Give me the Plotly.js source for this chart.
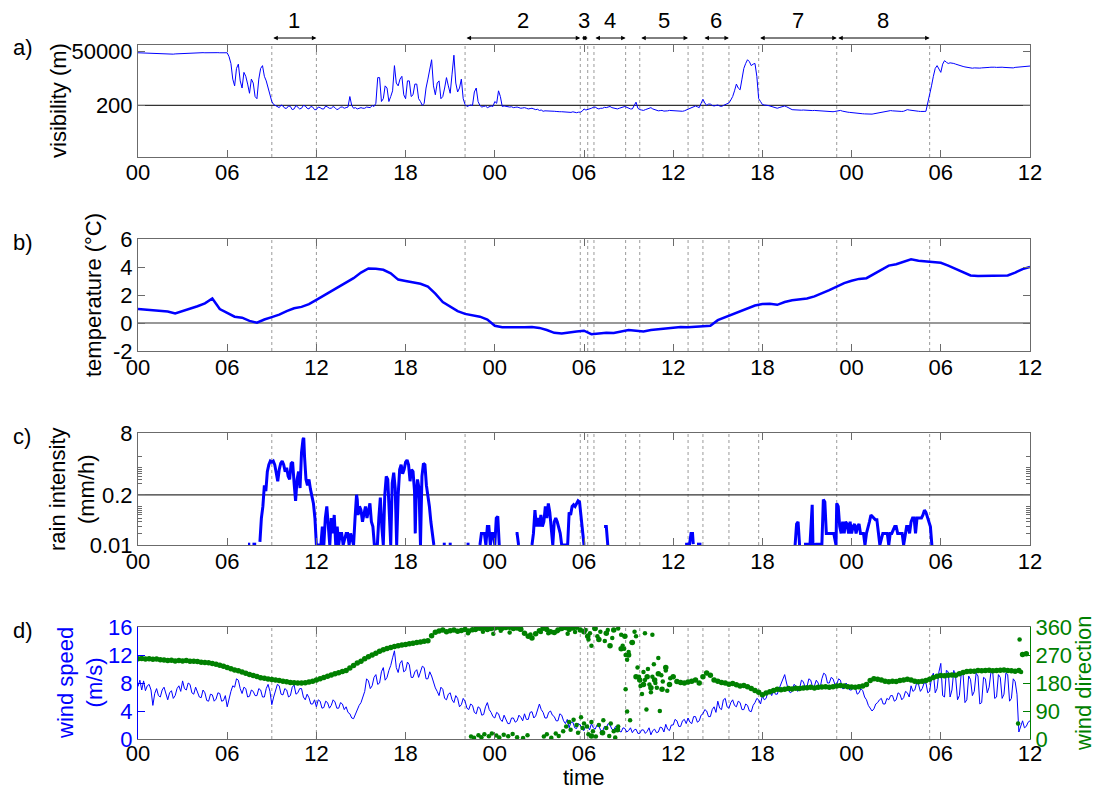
<!DOCTYPE html>
<html>
<head>
<meta charset="utf-8">
<script src="https://cdn.plot.ly/plotly-3.0.1.min.js"></script>
<style>html,body{margin:0;padding:0;background:#fff;}#chart{width:1098px;height:792px;}</style>
</head>
<body>
<div id="chart"></div>
<script>
// ---------------- DATA ----------------
const X_TICK_VALS = [0, 6, 12, 18, 24, 30, 36, 42, 48, 54, 60];
const X_TICK_TEXT = ['00','06','12','18','00','06','12','18','00','06','12'];

const EVENT_LABELS = ['1','2','3','4','5','6','7','8'];
const EVENT_START = [9, 22, 29.75, 30.67, 33.75, 38.0, 41.75, 47.0];
const EVENT_END   = [12, 29.75, 30.25, 32.8, 37.0, 39.75, 47.0, 53.25];

// visibility (m), every 0.125 h from hour 0 to hour 60 (one row per hour)
const VIS_STEP = 0.125;
const visibility = [
 45000,44500,44000,43500,43000,43500,44000,43000,
 42000,42500,43000,42000,41000,40500,40000,39500,
 39000,38500,38000,39000,40000,40500,41000,41500,
 42000,41500,41000,42000,43000,43500,44000,44500,
 44000,44500,45000,45500,45000,45500,46000,46500,
 46000,46500,46000,45500,45000,45500,46000,46500,
 45000,30000,15000,3000,1500,9000,14000,2500,
 1200,6000,4000,1800,700,3000,2000,500,
 400,3000,9000,12000,4000,2500,1200,600,
 300,220,200,180,160,210,190,150,
 150,190,180,130,140,200,170,140,
 150,200,190,150,140,180,170,130,
 130,170,160,140,140,190,170,150,
 150,180,160,130,140,170,170,150,
 160,170,500,200,150,160,140,150,
 160,150,150,170,170,160,200,180,
 250,3500,3500,300,400,1500,1200,300,
 500,900,12000,2000,1500,3000,4000,600,
 400,2500,2500,500,600,1800,1800,400,
 300,200,250,1200,3000,8000,22000,1500,
 600,2000,2500,400,500,1200,3500,1500,
 700,5000,35000,2000,800,1200,3000,400,
 220,180,190,210,200,800,1200,300,
 200,170,180,190,160,170,190,180,
 300,250,900,500,180,190,180,170,
 170,175,160,165,170,160,150,155,
 160,150,140,145,150,140,130,135,
 120,125,110,115,115,110,118,112,
 110,108,110,105,105,102,100,104,
 100,98,104,96,95,100,100,110,
 140,125,130,145,150,165,170,150,
 140,150,150,165,160,170,180,160,
 150,145,140,150,155,170,180,165,
 150,140,140,200,280,150,130,125,
 120,130,140,155,160,140,130,120,
 115,118,120,112,110,115,120,118,
 115,112,110,108,105,110,115,125,
 140,160,170,180,190,175,160,250,
 380,260,200,230,230,200,190,200,
 210,190,180,200,220,240,260,350,
 500,900,1800,1200,1000,3000,9000,15000,
 22000,18000,12000,14000,15000,4000,400,300,
 220,210,210,200,190,180,170,160,
 150,160,170,180,190,175,160,140,
 130,128,125,122,120,123,125,122,
 120,118,115,118,120,118,115,112,
 110,112,115,112,110,108,105,108,
 110,115,120,112,105,102,100,98,
 95,96,95,92,90,88,85,84,
 82,80,80,82,85,88,90,95,
 100,105,110,115,120,118,115,112,
 110,108,105,108,110,120,130,125,
 120,118,115,112,110,108,105,108,
 110,300,600,1500,4000,9000,12000,8000,
 6000,14000,20000,17000,15000,16000,16000,15000,
 14000,13000,12000,11500,11000,10500,10000,9500,
 9000,9200,9500,9200,9000,9300,9500,9800,
 10000,10000,10000,10200,10500,10200,10000,10300,
 10500,10200,10000,9800,9500,9200,9000,9500,
 10000,10200,10500,10800,11000,11000,11000,11200,
 11500
];

// temperature (deg C), every 0.5 h
const TEMP_STEP = 0.5;
const temperature = [
 1.0,0.95,0.9,0.88,0.82,0.68,0.85,1.0,1.2,1.4,1.75,1.0,
 0.75,0.45,0.38,0.15,0.02,0.25,0.42,0.6,0.85,1.05,1.15,1.35,
 1.65,1.95,2.25,2.55,2.85,3.2,3.6,3.9,3.88,3.8,3.55,3.1,
 3.0,2.9,2.8,2.6,2.1,1.5,1.2,0.85,0.65,0.55,0.45,0.25,
 -0.2,-0.3,-0.3,-0.35,-0.3,-0.28,-0.35,-0.5,-0.7,-0.75,-0.65,-0.6,
 -0.55,-0.8,-0.75,-0.7,-0.72,-0.6,-0.5,-0.55,-0.6,-0.5,-0.45,-0.35,
 -0.3,-0.28,-0.3,-0.28,-0.25,-0.2,0.2,0.4,0.6,0.8,1.05,1.25,
 1.35,1.38,1.3,1.5,1.62,1.68,1.75,1.9,2.1,2.35,2.6,2.85,
 3.02,3.15,3.2,3.5,3.85,4.1,4.2,4.35,4.55,4.45,4.4,4.35,
 4.3,4.1,3.85,3.6,3.4,3.35,3.35,3.35,3.35,3.4,3.6,3.85,
 4.0
];

// rain intensity (mm/h): time (h) and value, null = no rain
const rainTime = [
 7.4,7.55,7.56, 7.7,7.95,7.96,
 8.2,8.25,8.3,8.4,8.5,8.6,8.7,8.8,8.9,9.0,9.1,9.2,9.3,9.4,9.5,9.6,9.7,9.8,9.9,10.0,10.1,10.2,10.3,10.4,10.5,10.6,10.7,10.8,10.9,11.0,11.1,11.15,11.2,11.3,11.4,11.5,11.6,11.7,11.8,11.9,12.0,
 12.3,12.4,12.5,12.6,12.7,12.8,12.9,13.0,13.1,13.2,13.3,13.4,13.5,13.6,13.7,13.8,14.0,14.1,14.2,14.3,14.5,
 14.6,14.7,14.75,14.8,14.9,15.0,15.1,15.2,15.3,15.4,15.5,15.6,15.7,15.8,15.9,16.0,
 16.1,16.2,16.3,16.4,16.5,16.6,16.7,16.8,16.9,17.0,17.1,17.2,17.3,17.4,17.5,17.6,17.7,17.8,17.9,18.0,18.1,18.2,18.3,18.4,18.5,18.6,18.65,18.7,18.8,18.9,19.0,19.1,19.2,19.3,19.4,19.5,19.6,19.7,19.8,19.9,19.91,
 20.5,20.7,20.71, 20.9,21.1,21.11,
 22.1,22.3,22.31,
 23.0,23.1,23.3,23.4,23.5,23.6,23.7,23.8,23.9,24.0,24.1,24.2,24.3,24.31,
 25.4,25.5,25.6,25.61,
 26.5,26.6,26.7,26.8,26.9,27.0,27.1,27.2,27.3,27.4,27.5,27.6,27.7,27.8,27.9,28.0,28.1,28.2,28.3,28.4,28.5,28.7,28.9,29.0,29.1,29.2,29.3,29.4,29.5,29.6,29.7,29.8,29.9,30.0,30.01,
 31.35,31.5,31.6,31.61,
 36.8,37.1,37.2,37.3,37.35,37.36, 37.6,37.9,37.91,
 44.2,44.3,44.4,44.5,44.51,
 44.8,45.1,45.2,45.3,45.35,45.4,45.6,45.9,46.0,46.1,46.2,46.3,46.4,46.5,46.6,46.8,46.95,47.0,47.1,47.2,47.3,47.4,47.5,47.6,47.7,47.8,47.9,48.0,48.1,48.2,48.3,48.4,48.5,48.6,48.7,48.8,48.9,49.0,49.2,49.3,49.4,49.5,49.6,49.7,49.8,49.9,50.1,50.2,50.4,50.5,50.6,50.7,50.8,50.9,51.0,51.1,51.2,51.4,51.5,51.6,51.7,51.8,51.9,52.0,52.1,52.2,52.3,52.4,52.5,52.6,52.7,52.8,52.9,53.0,53.1,53.2,53.3,53.4,53.41
];
const rainValue = [
 0.0105,0.0105,null, 0.0105,0.0105,null,
 0.012,0.03,0.05,0.1,0.35,0.25,0.8,1.2,1.5,1.4,1.5,1.2,0.7,0.45,0.9,1.3,1.5,1.2,0.8,1.0,0.6,0.5,1.3,1.4,0.4,0.14,0.5,0.8,0.3,2.5,5.5,6.0,2.0,0.5,0.35,0.5,0.28,0.2,0.12,0.05,0.01,
 0.01,0.03,0.01,0.05,0.1,0.03,0.01,0.05,0.02,0.06,0.01,0.03,0.01,0.02,0.02,0.01,0.02,0.02,0.01,0.02,0.01,
 0.05,0.2,0.15,0.06,0.1,0.08,0.04,0.06,0.1,0.05,0.08,0.12,0.04,0.03,0.01,0.01,
 0.01,0.05,0.17,0.03,0.01,0.2,0.6,0.5,0.05,0.01,0.4,0.75,0.3,0.01,0.2,0.9,1.2,0.7,0.9,1.4,1.6,1.2,0.45,0.9,0.8,0.25,0.02,0.15,0.5,0.3,0.01,0.6,1.3,1.2,0.35,0.2,0.1,0.04,0.02,0.01,null,
 0.0105,0.0105,null, 0.0105,0.0105,null,
 0.0105,0.0105,null,
 0.01,0.02,0.02,0.01,0.03,0.03,0.01,0.02,0.02,0.01,0.05,0.055,0.01,null,
 0.02,0.02,0.01,null,
 0.01,0.02,0.08,0.03,0.05,0.03,0.06,0.03,0.04,0.1,0.05,0.12,0.07,0.02,0.01,0.04,0.05,0.04,0.03,0.02,0.01,0.01,0.01,0.07,0.06,0.1,0.11,0.1,0.12,0.14,0.13,0.05,0.03,0.01,null,
 0.03,0.03,0.01,null,
 0.0105,0.0105,0.02,0.02,0.0105,null, 0.0105,0.0105,null,
 0.01,0.035,0.04,0.01,null,
 0.0105,0.0105,0.01,0.1,0.11,0.01,0.0105,0.0105,0.01,0.15,0.13,0.02,0.02,0.02,0.02,0.02,0.01,0.12,0.1,0.03,0.02,0.04,0.02,0.04,0.035,0.02,0.04,0.02,0.03,0.035,0.02,0.03,0.035,0.02,0.02,0.02,0.01,0.02,0.04,0.06,0.055,0.05,0.045,0.045,0.02,0.01,0.02,0.02,0.02,0.01,0.02,0.02,0.025,0.03,0.03,0.02,0.02,0.02,0.01,0.02,0.03,0.03,0.02,0.04,0.05,0.05,0.02,0.05,0.05,0.05,0.05,0.06,0.08,0.07,0.05,0.04,0.03,0.01,null
];

// wind speed (m/s), every 0.125 h (one row per hour)
const WS_STEP = 0.125;
const windSpeed = [
 7.5,8.4,7.0,8.3,6.9,7.6,7.8,7.0,
 4.8,6.5,7.2,6.2,6.0,7.0,7.4,6.6,
 5.6,6.6,6.9,5.8,6.2,7.2,7.6,6.8,
 8.3,7.2,7.0,8.0,7.8,6.6,6.4,7.4,
 6.8,6.0,5.9,7.0,6.6,5.5,5.4,6.4,
 6.3,5.4,5.7,6.6,6.5,5.4,5.5,6.2,
 4.6,5.8,6.8,7.6,7.4,8.6,8.4,7.2,
 6.5,7.4,7.2,6.0,6.1,7.0,6.8,6.2,
 6.2,7.2,7.0,6.0,6.0,7.2,7.8,6.8,
 4.9,6.0,6.8,7.8,7.6,6.4,6.3,7.2,
 7.0,6.0,6.2,7.4,7.7,6.4,6.6,7.2,
 7.2,6.0,5.6,6.4,5.9,5.0,5.0,5.6,
 4.6,5.6,5.4,4.4,4.5,5.4,5.2,4.4,
 4.8,5.6,5.3,4.4,4.4,5.2,5.0,4.2,
 4.6,3.8,3.6,3.0,2.9,3.6,4.0,4.8,
 5.2,6.0,6.8,8.6,8.3,7.2,7.6,8.8,
 9.2,7.8,8.0,9.6,10.2,8.4,8.8,9.8,
 10.5,11.6,12.6,10.2,9.5,10.8,11.2,9.6,
 9.8,11.0,10.6,8.8,8.8,9.6,9.9,8.8,
 9.5,10.4,10.2,8.6,8.6,9.6,9.0,8.0,
 7.3,6.8,6.2,7.4,7.1,5.8,5.6,6.4,
 6.6,5.6,5.2,6.2,5.8,4.6,4.9,5.8,
 5.4,4.4,4.2,5.0,4.8,3.8,3.6,4.6,
 4.4,3.4,3.5,4.6,5.2,4.2,3.8,3.2,
 3.0,3.8,3.6,2.8,2.5,3.4,2.8,2.2,
 2.2,3.0,3.0,2.4,2.6,3.4,3.1,2.6,
 3.6,2.8,2.8,3.8,3.9,3.0,3.3,4.0,
 5.0,4.2,3.8,3.0,3.0,3.8,4.0,3.4,
 3.2,2.6,2.6,3.6,3.4,2.6,2.2,2.8,
 1.6,2.4,2.4,1.6,1.5,2.2,2.0,1.4,
 1.2,2.0,1.8,1.3,2.2,1.6,1.4,2.0,
 1.9,1.2,1.1,1.8,1.6,2.2,2.0,1.4,
 1.3,1.8,1.7,1.1,1.0,1.6,1.5,1.0,
 1.2,1.6,0.9,1.3,1.4,0.8,0.8,1.3,
 1.3,0.8,1.1,1.6,0.6,1.2,1.4,0.9,
 1.0,1.7,1.6,1.0,2.1,1.4,1.2,2.0,
 2.0,2.8,2.6,1.8,1.8,2.6,2.8,2.2,
 3.0,2.4,2.2,3.2,3.2,2.4,2.6,3.4,
 3.6,4.2,4.0,3.2,3.2,4.2,4.6,3.8,
 5.4,4.4,4.2,5.6,5.8,4.6,4.4,5.2,
 5.6,4.8,4.6,5.4,5.2,4.2,4.2,5.0,
 4.8,4.0,3.9,4.8,5.2,5.8,5.6,5.0,
 6.2,5.6,5.8,6.8,6.8,6.2,7.0,6.4,
 6.4,7.2,7.8,8.6,9.2,8.0,7.0,6.6,
 6.8,7.8,7.6,6.8,7.2,8.4,8.2,7.4,
 7.5,8.6,8.4,7.4,7.6,8.4,8.0,7.2,
 8.6,9.4,9.2,8.0,8.0,8.8,8.6,7.8,
 7.8,8.6,8.4,7.2,7.2,8.0,7.6,7.0,
 7.0,7.6,7.3,6.4,6.6,7.2,6.9,6.0,
 5.6,4.8,4.4,4.0,4.3,5.0,5.2,5.6,
 5.8,5.0,5.0,5.8,5.6,6.2,6.2,5.4,
 5.6,6.6,6.4,5.6,5.9,6.8,6.6,6.0,
 7.6,6.8,7.0,8.0,7.8,6.8,7.2,8.0,
 8.0,6.6,6.8,8.8,9.4,6.6,7.2,9.6,
 10.8,6.2,6.0,9.8,9.6,6.0,7.0,9.8,
 8.8,5.6,6.2,9.4,9.2,5.2,5.6,9.0,
 8.5,6.2,6.8,9.4,9.0,5.0,5.2,8.8,
 8.6,6.6,7.4,9.6,9.4,5.8,6.0,9.2,
 8.8,5.8,6.4,9.4,9.2,5.4,5.8,8.6,
 8.2,6.4,1.0,1.8,2.6,1.6,1.8,2.4,
 2.6
];

// wind direction (deg), every 0.25 h
const WD_STEP = 0.25;
const windDirection = [
 258,259,257,258, 256,257,255,254, 252,253,251,252, 251,252,250,250, 249,247,246,245, 243,240,237,234,
 230,226,222,219, 215,211,207,204, 201,197,195,193, 191,190,188,186, 184,182,181,180, 180,181,183,186,
 190,194,198,202, 206,210,213,217, 220,228,236,244, 250,258,264,270, 276,282,287,291, 294,297,300,302,
 304,306,308,310, 312,314,316,332, 343,347,350,345, 348,350,346,349, 352,347,351,354, 356,358,352,355,
 357,359,356,358, 359,355,357,353, 340,330,325,338, 348,356,352,345, 342,350,355,358, 352,357,359,350,
 345,330,10,355, 320,20,340,300, 350,30,290,330, 270,310,200,190, 175,200,165,190, 210,160,230,175,
 200,185,182,180, 183,186,190,180, 200,212,205,190, 186,182,180,176, 178,174,170,172, 168,162,156,150,
 142,148,152,156, 160,158,160,162, 161,163,162,164, 165,166,164,166, 167,168,166,168, 170,172,170,168,
 167,166,168,170, 175,188,194,192, 190,186,184,186, 185,188,190,192, 190,186,184,186, 188,192,198,202,
 204,203,205,206, 205,210,214,217, 218,218,220,219, 220,221,219,220, 221,222,220,219, 218,220,272,274,
 null
];
// additional scattered wind-direction samples (time h, direction deg)
const windDirExtraTime = [
 22.4,22.6,22.9,23.1,23.3,23.6,23.8,24.1,24.3,24.6,24.9,25.2,25.5,25.9,26.2,27.3,27.5,27.8,28.1,28.3,28.6,28.8,29.0,29.1,29.3,29.5,29.6,29.8,29.9,30.0,
 30.2,30.3,30.5,30.6,30.8,31.0,31.2,31.3,31.5,31.7,31.8,32.0,32.1,32.3,
 30.1,30.3,30.4,30.5,30.7,30.9,31.1,31.4,31.6,31.9,32.3,32.5,32.6,32.7,32.8,32.9,33.0,33.2,33.4,33.5,
 32.8,32.9,33.1,33.6,33.7,33.8,33.9,34.0,34.1,34.2,34.3,34.4,34.5,34.6,34.7,34.8,34.9,35.0,35.1,35.2,35.3,35.5,35.6,35.8,34.1,34.6,
 22.2,22.7,23.2,23.9,24.4,25.0,25.7,26.4,27.1,27.6,28.2,28.9,29.4,
 59.2,59.3,59.4
];
const windDirExtraValue = [
 8,4,12,6,15,9,18,11,5,14,9,16,6,3,12,8,15,4,18,10,25,40,55,30,62,45,20,70,35,50,
 40,15,55,25,8,45,20,60,35,10,50,25,5,40,
 350,320,340,300,355,330,345,315,350,325,355,335,300,290,270,255,280,310,345,330,
 160,88,60,230,200,170,145,215,190,95,225,175,150,200,240,180,165,260,90,205,185,220,155,195,340,335,
 340,350,345,338,348,342,352,336,344,340,346,338,344,
 50,320,215
];

const VIS_REF = [200];
const TEMP_REF = [0];
const RAIN_REF = [0.2];

const VIS_TICKS = [200, 50000];
const TEMP_TICKS = [-2, 0, 2, 4, 6];
const RAIN_TICKS = [0.01, 0.2, 8];
const RAIN_MINOR = [0.02,0.03,0.04,0.05,0.06,0.07,0.08,0.09,0.1,0.4,0.5,0.6,0.7,0.8,0.9,1,2];
const WS_TICKS = [0, 4, 8, 12, 16];
const WD_TICKS = [0, 90, 180, 270, 360];

// ---------------- LAYOUT HELPERS ----------------
const W = 1098, H = 792;
const PX_L = 138, PX_R = 1030;
const PANEL_TOP = [45, 239, 433, 627];
const PANEL_H = 112;
const xDom = [PX_L / W, PX_R / W];
const yDom = i => [1 - (PANEL_TOP[i] + PANEL_H) / H, 1 - PANEL_TOP[i] / H];
const py = p => 1 - p / H;
const px = p => p / W;

const BLUE = '#0000ff';
const GREEN = '#008000';
const AXC = '#6b6b6b';
const FONT = 'Liberation Sans, Arial, sans-serif';

const seq = (arr, step) => arr.map((_, i) => i * step);

// ---------------- TRACES ----------------
const traces = [
  {x: [0, 60], y: [VIS_REF[0], VIS_REF[0]], xaxis: 'x', yaxis: 'y', mode: 'lines', line: {color: '#333', width: 1.2}, hoverinfo: 'skip'},
  {x: seq(visibility, VIS_STEP), y: visibility, xaxis: 'x', yaxis: 'y', mode: 'lines', line: {color: BLUE, width: 1}},
  {x: [0, 60], y: [TEMP_REF[0], TEMP_REF[0]], xaxis: 'x2', yaxis: 'y2', mode: 'lines', line: {color: '#333', width: 1.2}, hoverinfo: 'skip'},
  {x: seq(temperature, TEMP_STEP), y: temperature, xaxis: 'x2', yaxis: 'y2', mode: 'lines', line: {color: BLUE, width: 2.5}},
  {x: [0, 60], y: [RAIN_REF[0], RAIN_REF[0]], xaxis: 'x3', yaxis: 'y3', mode: 'lines', line: {color: '#333', width: 1.2}, hoverinfo: 'skip'},
  {x: rainTime, y: rainValue, xaxis: 'x3', yaxis: 'y3', mode: 'lines', line: {color: BLUE, width: 3}, connectgaps: false},
  {x: seq(windSpeed, WS_STEP), y: windSpeed, xaxis: 'x4', yaxis: 'y4', mode: 'lines', line: {color: BLUE, width: 1}},
  {x: seq(windDirection, WD_STEP), y: windDirection, xaxis: 'x4', yaxis: 'y5', mode: 'markers', marker: {color: GREEN, size: 5.5}},
  {x: windDirExtraTime, y: windDirExtraValue, xaxis: 'x4', yaxis: 'y5', mode: 'markers', marker: {color: GREEN, size: 4.5}}
];

// ---------------- AXES ----------------
const xAxis = (anchor, standoff) => ({
  domain: xDom, anchor: anchor, range: [0, 60],
  tickmode: 'array', tickvals: X_TICK_VALS, ticktext: X_TICK_TEXT,
  ticks: 'inside', ticklen: 7, tickcolor: AXC, tickwidth: 1,
  showline: true, linecolor: AXC, linewidth: 1, mirror: 'ticks',
  showgrid: false, zeroline: false, ticklabelstandoff: standoff,
  tickfont: {family: FONT, size: 22, color: '#000'}
});
const yBase = (i, anchor) => ({
  domain: yDom(i), anchor: anchor,
  ticks: 'inside', ticklen: 7, tickcolor: AXC, tickwidth: 1,
  showline: true, linecolor: AXC, linewidth: 1, mirror: 'ticks',
  showgrid: false, zeroline: false,
  tickfont: {family: FONT, size: 22, color: '#000'}
});

const layout = {
  width: W, height: H,
  margin: {l: 0, r: 0, t: 0, b: 0},
  paper_bgcolor: '#fff', plot_bgcolor: '#fff',
  showlegend: false,
  font: {family: FONT, size: 22, color: '#000'},
  xaxis: xAxis('y', -4), xaxis2: xAxis('y2', -3), xaxis3: xAxis('y3', -3), xaxis4: xAxis('y4', -5),
  yaxis: Object.assign(yBase(0, 'x'), {type: 'log', range: [0, 5], tickmode: 'array', tickvals: VIS_TICKS, ticktext: VIS_TICKS.map(String)}),
  yaxis2: Object.assign(yBase(1, 'x2'), {range: [TEMP_TICKS[0], TEMP_TICKS[TEMP_TICKS.length - 1]], tickmode: 'array', tickvals: TEMP_TICKS, ticktext: TEMP_TICKS.map(String)}),
  yaxis3: Object.assign(yBase(2, 'x3'), {type: 'log', range: [Math.log10(RAIN_TICKS[0]), Math.log10(RAIN_TICKS[2])], tickmode: 'array', tickvals: RAIN_TICKS, ticktext: RAIN_TICKS.map(String),
           minor: {tickmode: 'array', tickvals: RAIN_MINOR, ticks: 'inside', ticklen: 4, tickcolor: AXC, showgrid: false}}),
  yaxis4: Object.assign(yBase(3, 'x4'), {range: [0, 16], tickmode: 'array', tickvals: WS_TICKS, ticktext: WS_TICKS.map(String),
           mirror: false, linecolor: BLUE, tickcolor: BLUE, tickfont: {family: FONT, size: 22, color: BLUE}}),
  yaxis5: {overlaying: 'y4', anchor: 'x4', side: 'right', range: [0, 360], tickmode: 'array', tickvals: WD_TICKS, ticktext: WD_TICKS.map(String),
           ticks: 'inside', ticklen: 7, tickcolor: GREEN, showline: true, linecolor: GREEN, linewidth: 1,
           showgrid: false, zeroline: false, tickfont: {family: FONT, size: 22, color: GREEN}},
  shapes: [], annotations: []
};

// vertical dotted event boundaries in every panel
const bounds = Array.from(new Set(EVENT_START.concat(EVENT_END))).sort((a, b) => a - b);
const axIds = ['', '2', '3', '4'];
axIds.forEach(id => {
  bounds.forEach(b => {
    layout.shapes.push({type: 'line', xref: 'x' + id, yref: 'y' + id + ' domain', x0: b, x1: b, y0: 0, y1: 1,
      line: {color: '#9a9a9a', width: 1, dash: 'dot'}, layer: 'below'});
  });
});

// event arrows and labels
const ARROW_Y = py(38), LABEL_Y = py(20);
EVENT_LABELS.forEach((lab, i) => {
  layout.annotations.push({x: EVENT_END[i], y: ARROW_Y, xref: 'x', yref: 'paper',
    ax: EVENT_START[i], ay: 0, axref: 'x', ayref: 'pixel', text: '', showarrow: true,
    arrowside: 'end+start', arrowhead: 2, startarrowhead: 2, arrowsize: 0.9, startarrowsize: 0.9,
    arrowwidth: 1, arrowcolor: '#000', standoff: 0, startstandoff: 0});
  layout.annotations.push({x: (EVENT_START[i] + EVENT_END[i]) / 2, y: LABEL_Y, xref: 'x', yref: 'paper',
    text: lab, showarrow: false, font: {size: 22, color: '#000'}, xanchor: 'center', yanchor: 'middle'});
});

// panel letters
['a)', 'b)', 'c)', 'd)'].forEach((t, i) => {
  layout.annotations.push({x: px(11), y: py(PANEL_TOP[i] + 3), xref: 'paper', yref: 'paper', text: t, showarrow: false,
    xanchor: 'left', yanchor: 'middle', font: {size: 22, color: '#000'}});
});

// axis titles
const yTitle = (text, xPix, i, color) => ({x: px(xPix), y: py(PANEL_TOP[i] + PANEL_H / 2), xref: 'paper', yref: 'paper',
  text: text, textangle: -90, showarrow: false, xanchor: 'center', yanchor: 'middle', font: {size: 22, color: color}});
layout.annotations.push(yTitle('visibility (m)', 59, 0, '#000'));
layout.annotations.push(yTitle('temperature (°C)', 94, 1, '#000'));
layout.annotations.push(yTitle('rain intensity<br>(mm/h)', 72, 2, '#000'));
layout.annotations.push(yTitle('wind speed<br>(m/s)', 80, 3, BLUE));
layout.annotations.push(yTitle('wind direction', 1083, 3, GREEN));
layout.annotations.push({x: px((PX_L + PX_R) / 2), y: py(777), xref: 'paper', yref: 'paper', text: 'time',
  showarrow: false, xanchor: 'center', yanchor: 'middle', font: {size: 22, color: '#000'}});

Plotly.newPlot('chart', traces, layout, {displayModeBar: false, staticPlot: true});
</script>
</body>
</html>
